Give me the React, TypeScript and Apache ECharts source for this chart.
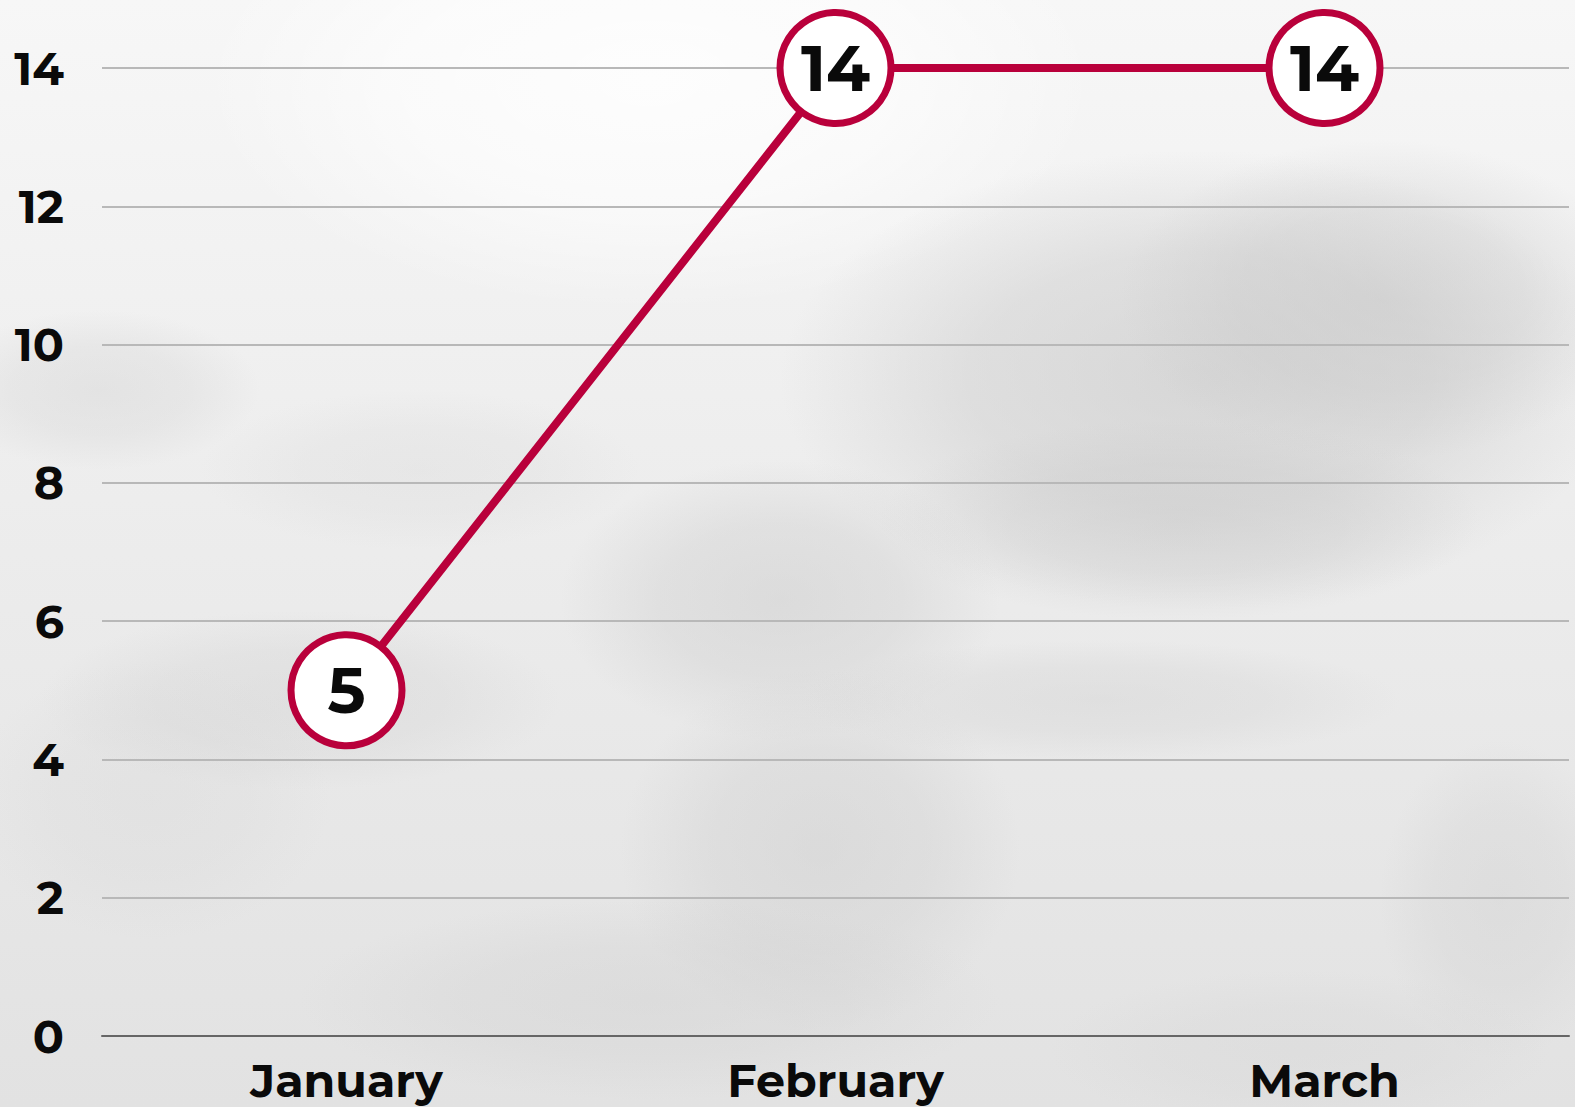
import React, { useEffect, useRef } from "react";
import * as echarts from "echarts";

const categories = ["January", "February", "March"];
const values = [5, 14, 14];
const yTicks = { min: 0, max: 14, interval: 2 };

const RED = "#b9003b";
const FONT = "Montserrat, Inter, 'Open Sans', sans-serif";

function blob(cx: number, cy: number, rx: number, ry: number, shade: number, alpha: number) {
  const c = `rgba(${shade},${shade},${shade},`;
  return {
    type: "ellipse",
    silent: true,
    z: -10,
    shape: { cx, cy, rx, ry },
    style: {
      fill: {
        type: "radial",
        x: 0.5,
        y: 0.5,
        r: 0.5,
        colorStops: [
          { offset: 0, color: c + alpha + ")" },
          { offset: 0.55, color: c + alpha * 0.7 + ")" },
          { offset: 1, color: c + "0)" },
        ],
      },
    },
  };
}

export default function App() {
  const ref = useRef<HTMLDivElement>(null);
  useEffect(() => {
    document.body.style.margin = "0";
    const chart = echarts.init(ref.current!, undefined, { renderer: "svg" });
    chart.setOption({
      animation: false,
      backgroundColor: {
        type: "linear",
        x: 0,
        y: 0,
        x2: 0,
        y2: 1,
        colorStops: [
          { offset: 0, color: "#f7f7f7" },
          { offset: 0.4, color: "#eeeeee" },
          { offset: 1, color: "#e2e2e2" },
        ],
      },
      graphic: [
        blob(650, 80, 450, 230, 255, 0.8),
        blob(1200, 380, 420, 230, 195, 0.55),
        blob(1380, 300, 260, 160, 195, 0.45),
        blob(1180, 520, 300, 100, 195, 0.35),
        blob(100, 390, 160, 80, 205, 0.35),
        blob(780, 600, 220, 140, 200, 0.45),
        blob(820, 850, 200, 180, 200, 0.4),
        blob(300, 700, 260, 90, 205, 0.35),
        blob(1100, 700, 300, 60, 205, 0.35),
        blob(650, 1000, 350, 100, 205, 0.35),
        blob(1500, 900, 120, 160, 205, 0.35),
        blob(420, 470, 220, 80, 215, 0.3),
        blob(1300, 1050, 250, 80, 210, 0.3),
        blob(150, 800, 180, 140, 210, 0.25),
      ],
      grid: { left: 102, right: 6, top: 68, bottom: 71, containLabel: false },
      xAxis: {
        type: "category",
        data: categories,
        boundaryGap: true,
        axisLine: { show: true, lineStyle: { color: "#666666", width: 2 } },
        axisTick: { show: false },
        axisLabel: {
          color: "#0a0a0a",
          fontSize: 46,
          fontWeight: "bold",
          fontFamily: FONT,
          margin: 21,
        },
      },
      yAxis: {
        type: "value",
        min: yTicks.min,
        max: yTicks.max,
        interval: yTicks.interval,
        axisLine: { show: false },
        axisTick: { show: false },
        splitLine: { show: true, lineStyle: { color: "#b8b8b8", width: 2 } },
        axisLabel: {
          color: "#0a0a0a",
          fontSize: 46,
          fontWeight: "bold",
          fontFamily: FONT,
          margin: 38,
        },
      },
      series: [
        {
          type: "line",
          data: values,
          symbol: "circle",
          symbolSize: 111,
          lineStyle: { color: RED, width: 8 },
          itemStyle: { color: "#ffffff", borderColor: RED, borderWidth: 7 },
          label: {
            show: true,
            position: "inside",
            color: "#0a0a0a",
            fontSize: 64,
            fontWeight: "bold",
            fontFamily: FONT,
          },
          emphasis: { disabled: true },
          z: 5,
        },
      ],
    });
    return () => chart.dispose();
  }, []);
  return (
    <div
      ref={ref}
      style={{ position: "fixed", left: 0, top: 0, width: 1575, height: 1107 }}
    />
  );
}
